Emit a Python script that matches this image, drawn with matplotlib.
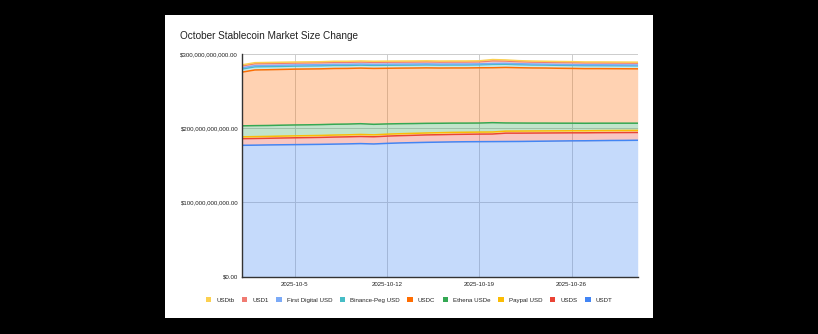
import matplotlib.pyplot as plt
from matplotlib.patches import Patch, Rectangle
from matplotlib.ticker import FuncFormatter
import numpy as np

plt.rcParams['font.family'] = ['Liberation Sans', 'DejaVu Sans']

days = list(range(1, 32))
tick_days = [5, 12, 19, 26]
tick_labels = ["2025-10-5", "2025-10-12", "2025-10-19", "2025-10-26"]

# values in billions of USD, stacking order bottom -> top
usdt = [177.0, 177.2, 177.5, 177.7, 177.9, 178.1, 178.3, 178.6, 178.9, 179.3, 178.8,
        179.6, 180.2, 180.6, 181.0, 181.3, 181.6, 181.8, 181.9, 182.0, 182.1, 182.2,
        182.4, 182.6, 182.8, 183.0, 183.1, 183.3, 183.5, 183.6, 183.8]
usds = [8.9, 9.0, 9.0, 9.1, 9.2, 9.3, 9.4, 9.5, 9.5, 9.6, 9.7, 9.8, 9.8, 9.9, 10.0, 10.0,
        10.1, 10.1, 10.2, 10.2, 11.3, 11.2, 11.1, 11.0, 10.9, 10.8, 10.7, 10.7, 10.6, 10.6, 10.5]
pyusd = [2.5, 2.5, 2.5, 2.6, 2.6, 2.6, 2.6, 2.7, 2.7, 2.7, 2.6, 2.6, 2.6, 2.6, 2.6, 2.7,
         2.7, 2.7, 2.7, 2.7, 2.7, 2.8, 2.8, 2.8, 2.8, 2.8, 2.8, 2.8, 2.8, 2.8, 2.8]
usde = [14.8, 14.8, 14.7, 14.7, 14.7, 14.6, 14.6, 14.6, 14.5, 14.5, 14.2, 13.8, 13.5, 13.2,
        13.0, 12.7, 12.5, 12.3, 12.2, 12.6, 11.0, 10.8, 10.6, 10.5, 10.3, 10.2, 10.1, 10.0,
        9.9, 9.8, 9.7]
usdc = [72.3, 75.0, 75.1, 75.1, 75.2, 75.2, 75.1, 75.1, 75.0, 74.9, 75.3, 75.0, 74.9, 74.8,
        74.7, 74.4, 74.3, 74.3, 74.4, 74.0, 74.8, 74.5, 74.3, 74.2, 74.0, 73.8, 73.6, 73.5,
        73.4, 73.3, 73.2]
bsc_usd = [4.2, 4.2, 4.2, 4.1, 4.1, 4.1, 4.1, 4.1, 4.0, 4.0, 4.1, 4.1, 4.0, 4.0, 4.0, 4.0,
           4.0, 4.0, 4.0, 4.5, 4.3, 4.1, 4.0, 4.0, 4.0, 4.0, 4.0, 4.0, 4.0, 4.0, 4.0]
fdusd = [1.6, 1.6, 1.6, 1.6, 1.5, 1.5, 1.5, 1.5, 1.5, 1.5, 1.4, 1.4, 1.4, 1.4, 1.4, 1.3,
         1.3, 1.3, 1.3, 1.3, 1.3, 1.3, 1.3, 1.2, 1.2, 1.2, 1.2, 1.2, 1.2, 1.2, 1.2]
usd1 = [2.6, 2.6, 2.6, 2.6, 2.6, 2.6, 2.6, 2.7, 2.7, 2.7, 2.7, 2.7, 2.7, 2.7, 2.7, 2.7,
        2.7, 2.7, 2.7, 3.4, 3.0, 2.7, 2.6, 2.6, 2.6, 2.6, 2.5, 2.5, 2.5, 2.5, 2.5]
usdtb = [1.4, 1.4, 1.4, 1.4, 1.4, 1.4, 1.4, 1.4, 1.4, 1.4, 1.4, 1.4, 1.4, 1.4, 1.4, 1.4,
         1.4, 1.4, 1.4, 1.8, 1.5, 1.4, 1.4, 1.3, 1.3, 1.3, 1.3, 1.3, 1.3, 1.3, 1.3]

names = ["USDT", "USDS", "Paypal USD", "Ethena USDe", "USDC",
         "Binance-Peg USD", "First Digital USD", "USD1", "USDtb"]
series = [usdt, usds, pyusd, usde, usdc, bsc_usd, fdusd, usd1, usdtb]
colors = ["#4285f4", "#ea4335", "#fbbc04", "#34a853", "#ff6d01",
          "#46bdc6", "#7baaf7", "#f07b72", "#fcd04f"]

fig = plt.figure(figsize=(8.18, 3.34), dpi=100, facecolor="black")
fig.patches.append(Rectangle((165 / 818, 1 - 317.7 / 334), (652.7 - 165) / 818, (317.7 - 15) / 334,
                             transform=fig.transFigure, facecolor="white", zorder=-10))
ax = fig.add_axes([241.7 / 818, 57.3 / 334, 396 / 818, 222.7 / 334])
ax.set_facecolor("white")

base = np.zeros(len(days))
for vals, c in zip(series, colors):
    top = base + np.array(vals) * 1e9
    ax.fill_between(days, base, top, color=c, alpha=0.3, lw=0, zorder=2)
    ax.plot(days, top, color=c, lw=1.1, zorder=3)
    base = top

ax.set_xlim(1, 31)
ax.set_ylim(0, 300e9)
ax.set_yticks([0, 100e9, 200e9, 300e9])
ax.yaxis.set_major_formatter(FuncFormatter(lambda v, p: "${:,.2f}".format(v)))
ax.set_xticks(tick_days)
ax.set_xticklabels(tick_labels)
ax.tick_params(length=0, labelsize=4.4, colors="#222222")
ax.tick_params(axis="x", pad=4)
ax.tick_params(axis="y", pad=2.5)
ax.grid(True, color="#cccccc", lw=0.7, zorder=1)
ax.set_axisbelow(True)
for s in ["top", "right"]:
    ax.spines[s].set_visible(False)
for s in ["left", "bottom"]:
    ax.spines[s].set_color("#333333")
    ax.spines[s].set_linewidth(1.0)
    ax.spines[s].set_zorder(4)

fig.text(180 / 818, 1 - 35.7 / 334, "October Stablecoin Market Size Change",
         fontsize=7.2, color="#222222", va="center", ha="left")

handles = [Patch(facecolor=c, edgecolor="none") for c in colors[::-1]]
fig.legend(handles, names[::-1], loc="center", bbox_to_anchor=(409 / 818, 1 - 300 / 334),
           ncol=9, frameon=False, fontsize=4.4, handlelength=0.9, handleheight=0.9,
           handletextpad=0.8, columnspacing=1.25, labelcolor="#222222")

fig.savefig("out.png", dpi=100, facecolor="black")
